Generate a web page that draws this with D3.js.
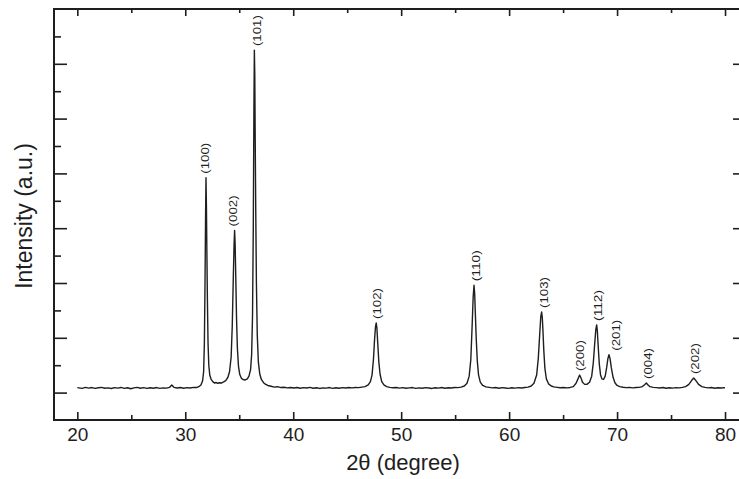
<!DOCTYPE html>
<html>
<head>
<meta charset="utf-8">
<script src="https://cdn.jsdelivr.net/npm/d3@7"></script>
<style>
  html, body { margin: 0; padding: 0; background: #fff; }
  svg { display: block; }
</style>
</head>
<body>
<svg id="chart" width="739" height="479"></svg>
<script>
const twoTheta = [
  20.0,20.45,20.75,21.05,21.35,21.65,21.95,22.25,22.55,22.85,23.15,23.45,23.75,24.05,24.35,24.65,24.95,25.25,25.55,25.85,
  26.15,26.45,26.75,27.05,27.35,27.65,27.95,28.25,28.55,28.75,28.95,29.25,29.55,29.85,30.15,30.45,30.75,31.05,31.25,31.45,
  31.6,31.7,31.77,31.83,31.88,31.92,31.96,32.0,32.05,32.11,32.18,32.27,32.4,32.55,32.7,32.85,33.0,33.15,33.35,33.55,
  33.75,33.95,34.1,34.25,34.35,34.45,34.52,34.57,34.62,34.68,34.75,34.83,34.93,35.05,35.2,35.35,35.55,35.75,35.9,36.05,
  36.15,36.23,36.3,36.36,36.4,36.44,36.48,36.53,36.59,36.67,36.77,36.9,37.05,37.25,37.45,37.65,37.95,38.25,38.55,38.85,
  39.15,39.45,39.75,40.05,40.35,40.65,40.95,41.25,41.55,41.85,42.15,42.45,42.75,43.05,43.35,43.65,43.95,44.25,44.55,44.85,
  45.15,45.45,45.75,46.05,46.35,46.65,46.95,47.15,47.3,47.43,47.53,47.62,47.69,47.75,47.83,47.93,48.05,48.2,48.4,48.65,
  48.95,49.25,49.55,49.85,50.15,50.45,50.75,51.05,51.35,51.65,51.95,52.25,52.55,52.85,53.15,53.45,53.75,54.05,54.35,54.65,
  54.95,55.25,55.55,55.85,56.1,56.3,56.45,56.57,56.67,56.75,56.81,56.87,56.95,57.05,57.17,57.33,57.55,57.85,58.15,58.45,
  58.75,59.05,59.35,59.65,59.95,60.25,60.55,60.85,61.15,61.45,61.75,62.05,62.3,62.55,62.7,62.83,62.93,63.01,63.07,63.13,
  63.21,63.31,63.45,63.65,63.9,64.15,64.45,64.75,65.05,65.35,65.65,65.95,66.2,66.4,66.53,66.65,66.8,67.0,67.2,67.45,
  67.65,67.8,67.93,68.03,68.11,68.17,68.25,68.35,68.47,68.6,68.75,68.9,69.03,69.15,69.25,69.35,69.47,69.63,69.8,70.0,
  70.25,70.55,70.85,71.15,71.45,71.75,72.05,72.35,72.55,72.71,72.87,73.05,73.35,73.65,73.95,74.25,74.55,74.85,75.15,75.45,
  75.75,76.05,76.35,76.65,76.9,77.1,77.3,77.55,77.85,78.15,78.45,78.75,79.05,79.35,79.65,79.9,80.0
];
const intensity = [
  90,78,95,82,92,76,88,96,80,86,74,90,82,94,78,88,70,86,96,80,
  90,76,88,80,92,78,86,82,96,140,96,84,92,80,90,84,96,92,108,140,
  210,380,900,2000,3200,3920,3400,2600,1700,900,500,320,240,200,175,185,170,180,175,195,
  220,280,380,650,1200,2100,2700,2960,2700,2100,1350,800,480,330,260,240,230,250,300,420,
  700,1400,3000,5200,6250,5800,4600,3300,2000,1050,560,340,240,180,150,130,115,100,108,92,
  98,86,94,84,92,80,90,84,96,80,88,76,86,82,92,78,88,80,90,84,
  92,86,94,90,100,110,140,200,320,600,950,1200,1270,1180,900,560,330,200,140,110,
  96,88,94,82,90,80,86,92,78,86,80,90,84,76,88,82,92,80,88,84,
  94,90,100,120,170,300,600,1200,1750,1960,1800,1450,1000,580,320,190,130,104,96,86,
  92,80,90,84,78,88,82,90,84,92,100,120,170,320,620,1050,1380,1470,1380,1150,
  780,450,250,160,120,104,96,88,92,86,94,110,170,260,320,270,190,150,150,190,
  300,550,900,1150,1235,1130,850,530,320,250,240,300,450,620,690,620,450,280,180,130,
  110,98,90,96,86,92,96,110,145,175,140,108,96,90,84,92,80,88,82,90,
  86,96,110,150,220,265,220,150,110,96,86,92,80,88,84,90,86
];
const peakLabels    = ["(100)","(002)","(101)","(102)","(110)","(103)","(200)","(112)","(201)","(004)","(202)"];
const labelTheta    = [31.83, 34.42, 36.64, 47.76, 56.93, 63.23, 66.57, 68.23, 69.90, 72.86, 77.22];
const peakIntensity = [3920, 2960, 6250, 1270, 1960, 1470, 320, 1235, 690, 175, 265];
const xTickValues = [20, 30, 40, 50, 60, 70, 80];
const xMinorTicks = [25, 35, 45, 55, 65, 75];
const yMajorTicks = [0, 1000, 2000, 3000, 4000, 5000, 6000];
const yMinorTicks = [500, 1500, 2500, 3500, 4500, 5500, 6500];
const xTitle = "2\u03b8 (degree)";
const yTitle = "Intensity (a.u.)";

// ---- layout ----
const L = 54, R = 741, T = 9, B = 420;
const svg = d3.select("#chart");
const font = "'Liberation Sans', Arial, Helvetica, sans-serif";
const ink = "#1e1e1e";

const x = d3.scaleLinear().domain([17.84, 81.48]).range([L, R]);
const y = d3.scaleLinear().domain([-500, 7000]).range([B, T]);

// pattern line
const pts = twoTheta.map((t, i) => [t, intensity[i]]);
svg.append("path")
  .datum(pts)
  .attr("fill", "none")
  .attr("stroke", ink)
  .attr("stroke-width", 1.4)
  .attr("stroke-linejoin", "round")
  .attr("d", d3.line().x(d => x(d[0])).y(d => y(d[1])));

// axes
function styleAxis(g) {
  g.select(".domain").remove();
  g.selectAll(".tick line").attr("stroke", ink).attr("stroke-width", 1.6);
  g.selectAll(".tick text").attr("fill", ink).attr("font-family", font);
}
svg.append("g").attr("transform", `translate(0,${B})`)
  .call(d3.axisBottom(x).tickValues(xTickValues).tickFormat(d3.format("d")).tickSizeInner(-8).tickSizeOuter(0).tickPadding(8))
  .call(styleAxis)
  .call(g => g.selectAll(".tick text").attr("font-size", 19));
svg.append("g").attr("transform", `translate(0,${B})`)
  .call(d3.axisBottom(x).tickValues(xMinorTicks).tickFormat("").tickSizeInner(-5).tickSizeOuter(0))
  .call(styleAxis);
svg.append("g").attr("transform", `translate(0,${T})`)
  .call(d3.axisTop(x).tickValues(xTickValues).tickFormat("").tickSizeInner(-7).tickSizeOuter(0))
  .call(styleAxis);
svg.append("g").attr("transform", `translate(0,${T})`)
  .call(d3.axisTop(x).tickValues(xMinorTicks).tickFormat("").tickSizeInner(-4).tickSizeOuter(0))
  .call(styleAxis);
svg.append("g").attr("transform", `translate(${L},0)`)
  .call(d3.axisLeft(y).tickValues(yMajorTicks).tickFormat("").tickSizeInner(-13).tickSizeOuter(0))
  .call(styleAxis);
svg.append("g").attr("transform", `translate(${L},0)`)
  .call(d3.axisLeft(y).tickValues(yMinorTicks).tickFormat("").tickSizeInner(-7).tickSizeOuter(0))
  .call(styleAxis);
svg.append("g").attr("transform", `translate(${R},0)`)
  .call(d3.axisRight(y).tickValues(yMajorTicks).tickFormat("").tickSizeInner(-8).tickSizeOuter(0))
  .call(styleAxis);

// frame
svg.append("rect")
  .attr("x", L).attr("y", T).attr("width", R - L).attr("height", B - T)
  .attr("fill", "none").attr("stroke", ink).attr("stroke-width", 2);

// peak labels (rotated, reading bottom to top)
svg.append("g").selectAll("text")
  .data(peakLabels)
  .join("text")
  .attr("transform", (d, i) => `translate(${x(labelTheta[i])},${y(peakIntensity[i]) - 4}) rotate(-90)`)
  .attr("dy", "0.35em")
  .attr("text-anchor", "start")
  .attr("font-family", font)
  .attr("font-size", 11)
  .attr("textLength", 31)
  .attr("lengthAdjust", "spacingAndGlyphs")
  .attr("fill", ink)
  .text(d => d);

// axis titles
svg.append("text")
  .attr("x", 403).attr("y", 470)
  .attr("text-anchor", "middle")
  .attr("font-family", font).attr("font-size", 22)
  .attr("fill", ink)
  .text(xTitle);
svg.append("text")
  .attr("transform", `translate(32,216) rotate(-90)`)
  .attr("text-anchor", "middle")
  .attr("font-family", font).attr("font-size", 23)
  .attr("fill", ink)
  .text(yTitle);
</script>
</body>
</html>
